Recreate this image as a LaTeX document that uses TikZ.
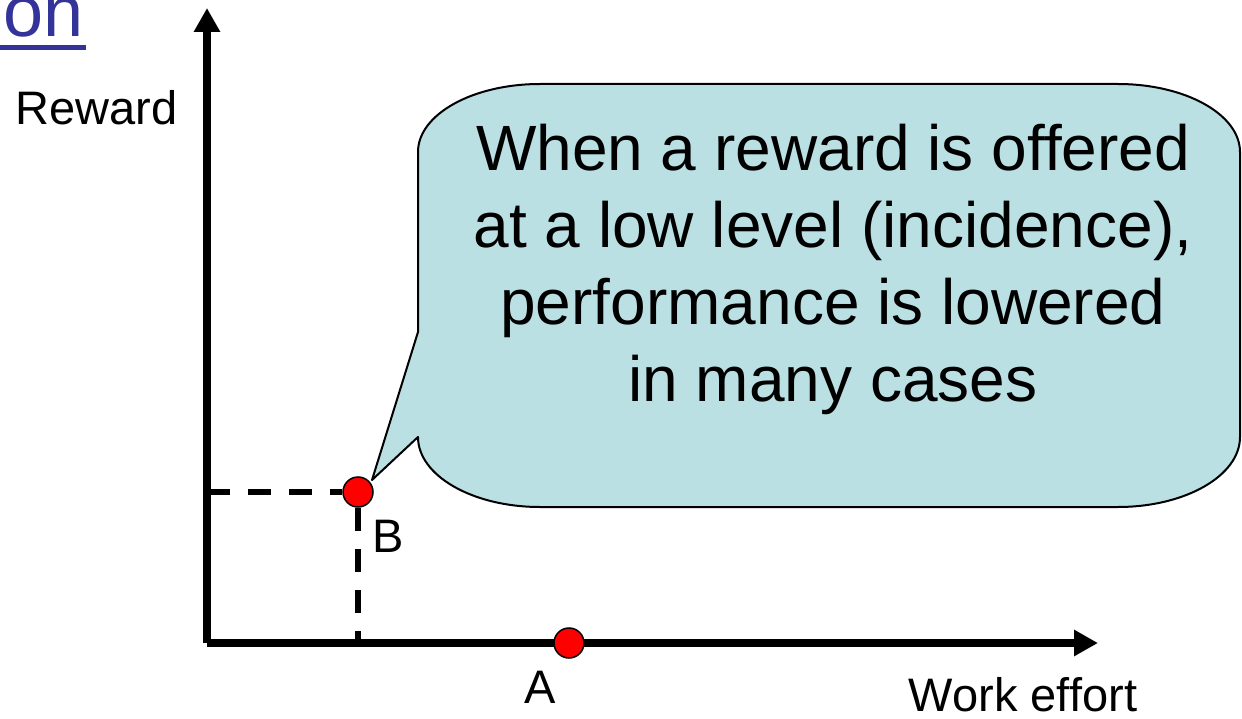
\documentclass[tikz,border=0pt]{standalone}
\usepackage{fontspec}
\setmainfont{Liberation Sans}
\usetikzlibrary{arrows.meta}
\definecolor{calloutfill}{HTML}{BAE0E3}
\definecolor{linkblue}{HTML}{333399}
\tikzset{
  axisline/.style={line width=8bp, -{Triangle[length=24bp,width=25bp]}},
  guideline/.style={line width=6bp, dash pattern=on 23bp off 18bp},
  dotpt/.style={circle, fill=red, draw=black, line width=1.5bp, minimum size=30bp, inner sep=0pt},
  lbl/.style={inner sep=0pt, anchor=base, font=\fontsize{47bp}{56bp}\selectfont},
  callout/.style={fill=calloutfill, draw=black, line width=2bp, line join=round}
}
\begin{document}
\begin{tikzpicture}[x=1bp, y=-1bp]
\useasboundingbox (0,0) rectangle (1242,719);
% title fragment
\begin{scope}
\clip (0,0) rectangle (1242,719);
\node[inner sep=0pt, anchor=base east, text=linkblue, font=\fontsize{72bp}{80bp}\selectfont] (title) at (84,37) {on};
\end{scope}
\draw[linkblue, line width=5bp] (0,47.5) -- (86,47.5);
% callout
\path[callout] (418,332) -- (372,480) -- (418,437)
  arc[start angle=180, end angle=90, x radius=122, y radius=70]
  -- (1118,507)
  arc[start angle=90, end angle=0, x radius=122, y radius=70]
  -- (1240,152)
  arc[start angle=0, end angle=-90, x radius=122, y radius=68]
  -- (540,84)
  arc[start angle=270, end angle=180, x radius=122, y radius=68]
  -- cycle;
\node[inner sep=0pt, align=center, font=\fontsize{64bp}{77bp}\selectfont] (msg) at (833,269)
  {When a reward is offered\\at a low level (incidence),\\performance is lowered\\in many cases};
% axes
\coordinate (O) at (207,643);
\coordinate (ytop) at (207,8);
\coordinate (xend) at (1098,643);
\draw[axisline] (O) -- (ytop);
\draw[axisline] (O) -- (xend);
% guides
\coordinate (yB) at (207,492);
\coordinate (xB) at (358,643);
\node[dotpt] (B) at (358,492) {};
\draw[guideline] (yB) -- (B.west);
\draw[guideline] (B.south) -- (xB);
\node[dotpt] (A) at (569,643) {};
% labels
\node[lbl] (rew) at (96.5,125) {Reward};
\node[lbl] (lB) at (388.5,552) {B};
\node[lbl] (lA) at (540,703) {A};
\node[lbl] (we) at (1023,711) {Work effort};
\end{tikzpicture}
\end{document}
